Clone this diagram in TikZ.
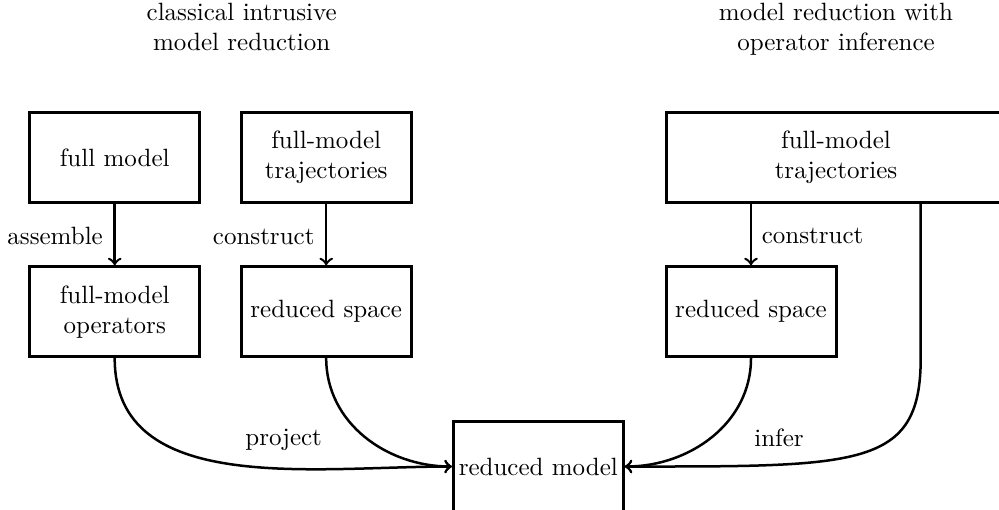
\documentclass[tikz,border=0pt]{standalone}
\begin{document}
\begin{tikzpicture}[x=0.4pt,y=0.4pt,
  box/.style={draw, line width=1.2pt, minimum width=68pt, minimum height=36pt, inner sep=2pt, align=center},
  arr/.style={->, line width=1pt},
  lbl/.style={inner sep=0pt}]
\useasboundingbox (0,0) rectangle (999,-509);
\clip (0,0) rectangle (999,-509);

% titles
\node[align=center] (t1) at (241.7,-27) {classical intrusive\\model reduction};
\node[align=center] (t2) at (836,-29) {model reduction with\\operator inference};

% boxes
\node[box] (fm) at (114.7,-157.7) {full model};
\node[box] (trajL) at (326.2,-157.7) {full-model\\trajectories};
\node[box] (ops) at (114.7,-311.7) {full-model\\operators};
\node[box] (rsL) at (326.2,-311.7) {reduced space};
\node[box, minimum width=136pt] (trajR) at (836,-157.7) {full-model\\trajectories};
\node[box] (rsR) at (751,-311.7) {reduced space};
\node[box] (rm) at (538.3,-466.5) {reduced model};

% straight arrows
\draw[arr] (fm.south) -- (ops.north);
\draw[arr] (trajL.south) -- (rsL.north);
\draw[arr] (trajR.south -| rsR.north) -- (rsR.north);

% curved arrows
\draw[arr] (ops.south) to[out=-90,in=180] (rm.west);
\draw[arr] (rsL.south) to[out=-90,in=180] (rm.west);
\draw[arr] (rsR.south) to[out=-90,in=0] (rm.east);
\coordinate (ix) at (920.7,0);
\coordinate (ibend) at (rsR.south -| ix);
\draw[arr] (trajR.south -| ix) -- (ibend) .. controls +(0,-110) and +(235,0) .. (rm.east);

% labels
\node[lbl, anchor=base east] (lassemble) at (103.3,-244) {assemble};
\node[lbl, anchor=base east] (lconstructL) at (315,-244) {construct};
\node[lbl, anchor=base west] (lconstructR) at (761.3,-243.5) {construct};
\node[lbl, anchor=base] (lproject) at (283.7,-445) {project};
\node[lbl, anchor=base] (linfer) at (779,-446.5) {infer};
\end{tikzpicture}
\end{document}
